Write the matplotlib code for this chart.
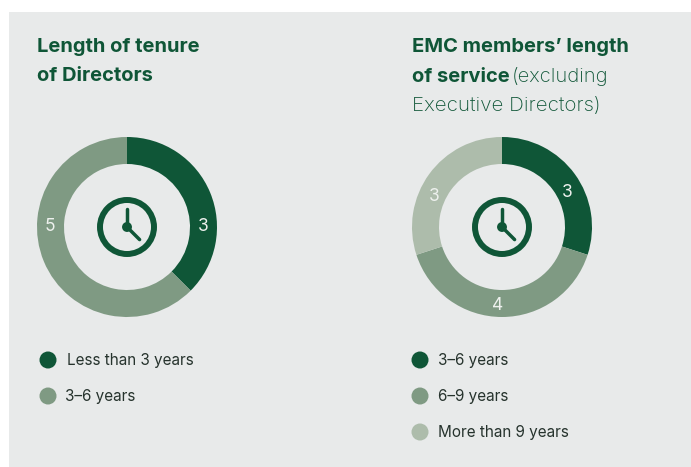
import matplotlib
matplotlib.use('Agg')
import matplotlib.pyplot as plt
from matplotlib.patches import Circle, Rectangle
from matplotlib.transforms import IdentityTransform

W, H = 691, 467

left_values = [3, 5]
left_labels = ['Less than 3 years', '3–6 years']
right_values = [3, 4, 3]
right_labels = ['3–6 years', '6–9 years', 'More than 9 years']

dark = '#0f5637'
mid = '#7f9a83'
light = '#adbcab'
panel = '#e8eaea'

plt.rcParams['font.family'] = ['Inter', 'DejaVu Sans']

fig = plt.figure(figsize=(W / 100, H / 100), dpi=100, facecolor='white')
fig.add_artist(Rectangle((9 / W, 0), 682 / W, 455 / H, transform=fig.transFigure,
                         fc=panel, ec='none', zorder=-5))


def px_text(x, y, s, **kw):
    return fig.text(x / W, 1 - y / H, s, va='baseline', zorder=10, **kw)


def donut(cx, cy, values, colors):
    r = 90
    ax = fig.add_axes([(cx - r) / W, 1 - (cy + r) / H, 2 * r / W, 2 * r / H])
    ax.pie(values, colors=colors, startangle=90, counterclock=False, radius=1,
           wedgeprops=dict(width=0.3, linewidth=0))
    ax.set_xlim(-1, 1)
    ax.set_ylim(-1, 1)
    ax.axis('off')
    # clock in the hole
    ax.add_patch(Circle((0, 0), 0.3, fc='none', ec=dark, lw=4.3))
    ax.add_patch(Circle((0, 0), 0.055, fc=dark, ec='none'))
    ax.plot([0, 0], [0, 0.2], color=dark, lw=2.5, solid_capstyle='round')
    ax.plot([0, 0.14], [0, -0.14], color=dark, lw=2.5, solid_capstyle='round')
    return ax


def legend(x, y, labels, colors, offset):
    for i, (lab, col) in enumerate(zip(labels, colors)):
        yy = y + i * 36
        fig.add_artist(Circle((x, H - yy), 8.5, transform=IdentityTransform(), fc=col, ec='none'))
        px_text(x + offset[i], yy + 5.5, lab, fontsize=11, color='#26332d')


ax1 = donut(127, 227, left_values, [dark, mid])
ax2 = donut(502, 227, right_values, [dark, mid, light])

# value labels on the rings
for x, y, s in [(203, 231, left_values[0]), (50, 231, left_values[1]),
                (567, 197, right_values[0]), (498, 310, right_values[1]), (434, 201.5, right_values[2])]:
    px_text(x, y, str(s), fontsize=12.5, color='#eef1ee', ha='center', fontweight='normal')

# titles
px_text(37, 52, 'Length of tenure', fontsize=14.5, fontweight='bold', color=dark)
px_text(37, 81, 'of Directors', fontsize=14.5, fontweight='bold', color=dark)
px_text(412, 52, 'EMC members’ length', fontsize=14.5, fontweight='bold', color=dark)
px_text(412, 82, 'of service', fontsize=14.5, fontweight='bold', color=dark)
px_text(512, 82, '(excluding', fontsize=14.5, color=dark, fontweight='light')
px_text(412, 111, 'Executive Directors)', fontsize=14.8, color=dark, fontweight='light')

legend(48, 360, left_labels, [dark, mid], [19, 17])
legend(420, 360, right_labels, [dark, mid, light], [18, 18, 18])

fig.savefig('out.png', dpi=100)
